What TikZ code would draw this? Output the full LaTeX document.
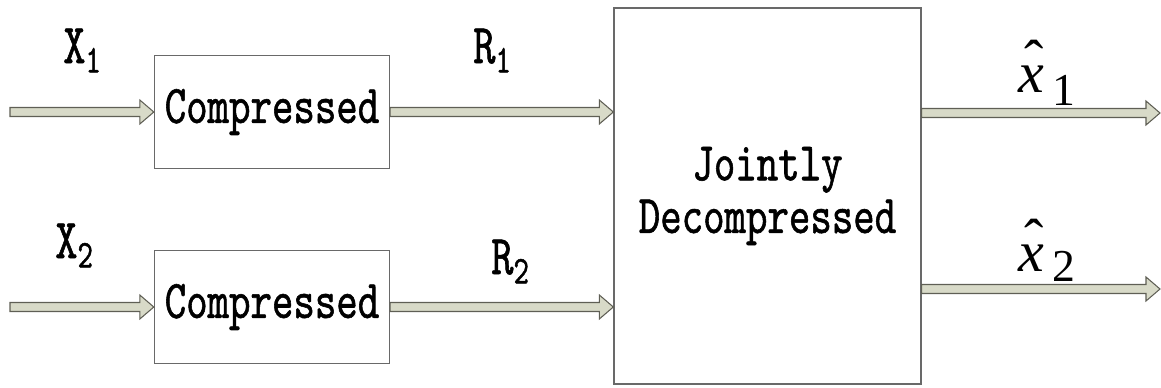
\documentclass[tikz,border=0pt]{standalone}
\usepackage{fontspec}
\setmainfont{Liberation Serif}
\newfontfamily\songmono[FakeStretch=0.75, FakeBold=1]{lmmono10-regular.otf}
\newfontface\timesit{Liberation Serif Italic}
\usetikzlibrary{positioning, calc}

\definecolor{arrowfill}{RGB}{216,218,200}
\definecolor{arrowline}{RGB}{95,95,85}
\definecolor{boxline}{RGB}{105,105,105}

% x with a hat, Times-like
\newcommand{\xhat}{{\makebox[0pt][l]{\hspace{0.11em}\raisebox{0.2em}{\char"02C6}}\timesit x}}

\begin{document}
\begin{tikzpicture}[
  x=0.02cm, y=-0.02cm,
  box/.style     = {draw=boxline, line width=0.8pt, align=center, inner sep=0pt,
                    font=\songmono\fontsize{31}{30}\selectfont},
  enc/.style     = {box, minimum width=4.7cm, minimum height=2.26cm},
  dec/.style     = {box, minimum width=6.14cm, minimum height=7.52cm},
  fat/.style     = {draw=arrowline, fill=arrowfill, line width=0.6pt,
                    to path={let \p1=(\tikztostart), \p2=(\tikztotarget) in
                      (\x1,\y1+0.09cm) -- (\x2-0.28cm,\y1+0.09cm)
                      -- (\x2-0.28cm,\y1+0.24cm) -- (\x2,\y1)
                      -- (\x2-0.28cm,\y1-0.24cm) -- (\x2-0.28cm,\y1-0.09cm)
                      -- (\x1,\y1-0.09cm) -- cycle}},
  lbl/.style     = {anchor=base west, inner sep=0pt,
                    font=\songmono\fontsize{32}{32}\selectfont},
  est/.style     = {anchor=base west, inner sep=0pt,
                    font=\fontsize{33}{33}\selectfont},
]
\useasboundingbox (0,0) rectangle (1161,387);

% ---- encoders (left) --------------------------------------------------------
\node[enc] (enc1) at (272,112) {Compressed};
\node[enc] (enc2) at (272,307) {Compressed};

% sources
\coordinate (in1) at (10,112);
\coordinate (in2) at (10,307);
\node[lbl] (src1) at (63,63) {X\textsubscript{1}};
\node[lbl] (src2) at (55,258) {X\textsubscript{2}};
\draw[fat] (in1) to (enc1.west);
\draw[fat] (in2) to (enc2.west);

% ---- joint decoder (middle) -------------------------------------------------
\node[dec] (dec) at (767.5,196) {Jointly\\Decompressed};

% rates
\node[lbl] (rate1) at (473,63) {R\textsubscript{1}};
\node[lbl] (rate2) at (491,274) {R\textsubscript{2}};
\draw[fat] (enc1.east) to (dec.west |- enc1.east);
\draw[fat] (enc2.east) to (dec.west |- enc2.east);

% ---- estimates (right) ------------------------------------------------------
\coordinate (out1) at (1160,113);
\coordinate (out2) at (1160,289);
\node[est] (hat1) at (1018,92)
  {\xhat\hspace{5pt}\raisebox{-7.5pt}{\fontsize{26}{26}\selectfont 1}};
\node[est] (hat2) at (1018,271)
  {\xhat\hspace{5pt}\raisebox{-6pt}{\fontsize{26}{26}\selectfont 2}};
\draw[fat] (dec.east |- out1) to (out1);
\draw[fat] (dec.east |- out2) to (out2);

\end{tikzpicture}
\end{document}
